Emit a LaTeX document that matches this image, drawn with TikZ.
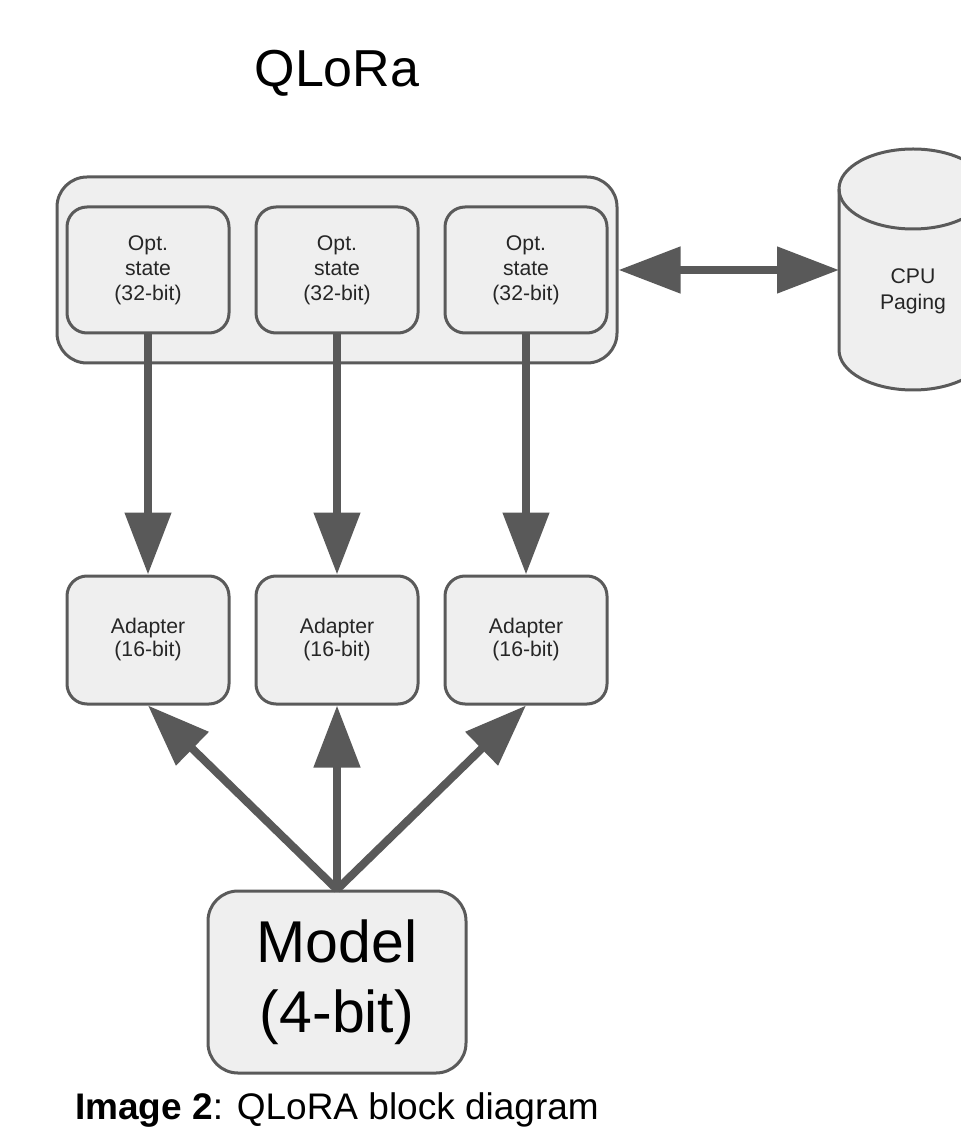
\documentclass[tikz,border=0pt]{standalone}
\usepackage{fontspec}
\setmainfont{Liberation Sans}
\usetikzlibrary{positioning, arrows.meta, backgrounds}
\usepackage{xcolor}
\definecolor{boxfill}{HTML}{EFEFEF}
\definecolor{boxline}{HTML}{5A5A5A}
\definecolor{arrowgray}{HTML}{595959}
\definecolor{inktext}{HTML}{262626}

\begin{document}
\begin{tikzpicture}[
    x=0.5pt, y=-0.5pt,
    node distance=12pt,
    block/.style={rectangle, rounded corners=10pt, draw=boxline, fill=boxfill, line width=1.5pt, align=center, inner sep=0pt, text=inktext},
    optbox/.style={block, minimum width=81pt, minimum height=63pt, font=\fontsize{10.6}{12.5}\selectfont},
    adapter/.style={block, minimum width=81pt, minimum height=64pt, font=\fontsize{10.6}{11.5}\selectfont},
    panel/.style={block, rounded corners=15pt, minimum width=280pt, minimum height=93pt},
    modelbox/.style={block, rounded corners=15pt, minimum width=129pt, minimum height=91pt, text=black, font=\fontsize{29.5}{35}\selectfont},
    store/.style={draw=boxline, fill=boxfill, line width=1.5pt},
    flow/.style={-{Triangle[length=31pt, width=22.5pt]}, line width=4pt, draw=arrowgray},
    paging/.style={{Triangle[length=31pt, width=22.5pt]}-{Triangle[length=31pt, width=22.5pt]}, line width=4pt, draw=arrowgray}
]
    \useasboundingbox (0,0) rectangle (960,1143);

    % Title
    \node[font=\fontsize{26}{31}\selectfont] (title) at (337,73) {QLoRa};

    % Optimizer states
    \node[panel] (panel) at (337,270) {};
    \node[optbox] (opt2) at (panel) {Opt.\\state\\(32-bit)};
    \node[optbox, left=of opt2] (opt1) {Opt.\\state\\(32-bit)};
    \node[optbox, right=of opt2] (opt3) {Opt.\\state\\(32-bit)};

    % Adapters
    \node[adapter, below=120pt of opt1] (ad1) {Adapter\\(16-bit)};
    \node[adapter, below=120pt of opt2] (ad2) {Adapter\\(16-bit)};
    \node[adapter, below=120pt of opt3] (ad3) {Adapter\\(16-bit)};

    % Model
    \node[modelbox, below=92pt of ad2] (model) {Model\\(4-bit)};

    % CPU paging
    \node[minimum width=74pt, inner sep=0pt, outer sep=0pt, align=center, text=inktext, font=\fontsize{10.6}{13}\selectfont] (cpu) at (913,291) {CPU\\Paging};
    \begin{scope}[on background layer]
        \path[store] ([yshift=51pt]cpu.west) -- ([yshift=-29.5pt]cpu.west)
            arc[start angle=180, end angle=360, x radius=37pt, y radius=20pt]
            -- ([yshift=51pt]cpu.east)
            arc[start angle=0, end angle=180, x radius=37pt, y radius=20pt] -- cycle;
        \draw[store, fill=none] ([yshift=51pt]cpu.west)
            arc[start angle=180, end angle=360, x radius=37pt, y radius=20pt];
    \end{scope}

    % Caption
    \node[anchor=west, font=\fontsize{18.5}{22}\selectfont] (caption) at (68,1110) {\textbf{Image 2}: QLoRA block diagram};

    % Connections
    \draw[flow] (opt1) -- (ad1);
    \draw[flow] (opt2) -- (ad2);
    \draw[flow] (opt3) -- (ad3);
    \draw[flow] (model.north) -- (ad1.south);
    \draw[flow] (model.north) -- (ad2.south);
    \draw[flow] (model.north) -- (ad3.south);
    \draw[paging] (panel.east) -- (panel.east -| cpu.west);

\end{tikzpicture}
\end{document}
